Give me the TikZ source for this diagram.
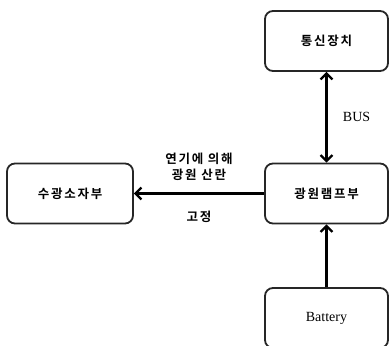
\documentclass[tikz,border=0pt]{standalone}
\usepackage{fontspec}
\setmainfont{Liberation Serif}
\newfontfamily\kofont{Noto Sans CJK KR Bold}[LetterSpace=14]
\usetikzlibrary{arrows.meta,positioning}

\begin{document}
\begin{tikzpicture}[
  x=1pt, y=-1pt,
  box/.style={rectangle, rounded corners=8pt, draw=black!85, line width=1.8pt,
              minimum width=123pt, minimum height=60pt, align=center,
              font=\kofont\fontsize{12.5}{14}\selectfont},
  arr/.style={-{Straight Barb[length=6pt,width=12pt]}, line width=2.2pt},
  dblarr/.style={{Straight Barb[length=6pt,width=12pt]}-{Straight Barb[length=6pt,width=12pt]}, line width=2.2pt},
  lbl/.style={font=\kofont\fontsize{12.5}{16}\selectfont, align=center},
  latin/.style={font=\fontsize{14}{16}\selectfont}
]
\useasboundingbox (0,0) rectangle (390,345);
\clip (0,0) rectangle (390,345);

%% ---- Right column ----
\node[box] (comm)  at (326.5,41)  {통신장치};
\node[box] (lamp)  at (326.5,193.5) {광원램프부};
\node[box, latin] (batt) at (326.5,318) {Battery};

%% ---- Left ----
\node[box, minimum width=126pt] (recv) at (70,193.5) {수광소자부};

%% ---- Arrows ----
\draw[dblarr] (comm) -- node[right=12pt, latin]{BUS} (lamp);
\draw[arr] (batt) -- (lamp);
\draw[arr] (lamp) -- (recv)
  node[lbl, midway, above=8pt]{연기에 의해\\광원 산란}
  node[lbl, midway, below=13pt]{고정};
\end{tikzpicture}
\end{document}
